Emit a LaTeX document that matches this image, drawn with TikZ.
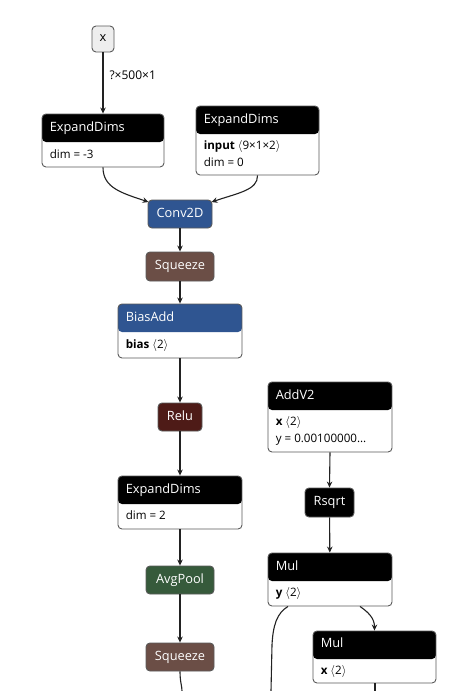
\documentclass[tikz,border=0pt]{standalone}
\usepackage{fontspec}
\setmainfont{Open Sans}
\usetikzlibrary{arrows.meta}
\newcommand{\myla}{$\langle$}
\newcommand{\myra}{$\rangle$}
\definecolor{bordc}{HTML}{5A5A5A}
\definecolor{edgec}{HTML}{222222}
\definecolor{convblue}{HTML}{2F5591}
\definecolor{sqbrown}{HTML}{6B4E46}
\definecolor{relured}{HTML}{4E1B17}
\definecolor{avggreen}{HTML}{365A3B}
\definecolor{xgray}{HTML}{EEEEEE}
\tikzset{
  blk/.style={draw=bordc, fill=white, rounded corners=4pt, line width=0.9pt, inner sep=0pt},
  hdr/.style={path picture={\fill[#1] (path picture bounding box.north west) rectangle ([yshift=-28pt]path picture bounding box.north east);}},
  op/.style={draw=bordc, rounded corners=4pt, line width=0.9pt, text=white, inner sep=0pt,
    font=\fontsize{12.8}{15}\selectfont, text height=9.2pt, text depth=2.8pt},
  inp/.style={draw=bordc, fill=xgray, rounded corners=4pt, line width=0.9pt, text=black, inner sep=0pt,
    font=\fontsize{12.8}{15}\selectfont, text height=6.8pt, text depth=1pt},
  hd/.style={anchor=west, text=white, inner sep=0pt, font=\fontsize{12.8}{15}\selectfont, text height=9.2pt, text depth=2.8pt},
  bd/.style={anchor=west, text=black, inner sep=0pt, font=\fontsize{11.6}{14}\selectfont, text height=8.4pt, text depth=2.6pt},
  lbl/.style={anchor=west, text=black, inner sep=0pt, font=\fontsize{12}{14}\selectfont},
  edge/.style={draw=edgec, line width=1.1pt, -{Stealth[length=6pt,width=5.5pt]}},
  tail/.style={draw=edgec, line width=1.1pt},
}
\begin{document}
\begin{tikzpicture}[x=1pt,y=-1pt]
\useasboundingbox (0,0) rectangle (467,691);
\fill[white] (0,0) rectangle (467,691);

% input
\node[inp, minimum width=22pt, minimum height=26pt] (x) at (103,39) {x};

% ExpandDims 1
\node[blk, hdr=black, minimum width=122pt, minimum height=53pt] (e1) at (103,140.5) {};
\node[hd] (e1t) at ([xshift=8pt,yshift=-14.5pt]e1.north west) {ExpandDims};
\node[bd] (e1a) at ([xshift=8pt,yshift=-42pt]e1.north west) {dim = -3};

% ExpandDims 2
\node[blk, hdr=black, minimum width=123pt, minimum height=69pt] (e2) at (257.5,140.5) {};
\node[hd] (e2t) at ([xshift=8pt,yshift=-14.5pt]e2.north west) {ExpandDims};
\node[bd] (e2a) at ([xshift=8pt,yshift=-41.5pt]e2.north west) {\textbf{input} \myla9×1×2\myra};
\node[bd] (e2b) at ([xshift=8pt,yshift=-58pt]e2.north west) {dim = 0};

% Conv2D
\node[op, fill=convblue, minimum width=64pt, minimum height=28pt] (conv) at (180,214) {Conv2D};
% Squeeze 1
\node[op, fill=sqbrown, minimum width=68pt, minimum height=29pt] (sq1) at (180,266.5) {Squeeze};
% BiasAdd
\node[blk, hdr=convblue, minimum width=124pt, minimum height=54pt] (bias) at (180,331) {};
\node[hd] (biast) at ([xshift=8pt,yshift=-14.5pt]bias.north west) {BiasAdd};
\node[bd] (biasa) at ([xshift=8pt,yshift=-42pt]bias.north west) {\textbf{bias} \myla2\myra};
% Relu
\node[op, fill=relured, minimum width=44pt, minimum height=28pt] (relu) at (180,417) {Relu};
% AddV2
\node[blk, hdr=black, minimum width=124pt, minimum height=70pt] (add) at (330,417) {};
\node[hd] (addt) at ([xshift=8pt,yshift=-14.5pt]add.north west) {AddV2};
\node[bd] (adda) at ([xshift=8pt,yshift=-41.5pt]add.north west) {\textbf{x} \myla2\myra};
\node[bd] (addb) at ([xshift=8pt,yshift=-58pt]add.north west) {y = 0.00100000…};
% ExpandDims 3
\node[blk, hdr=black, minimum width=124pt, minimum height=53pt] (e3) at (180,502.5) {};
\node[hd] (e3t) at ([xshift=8pt,yshift=-14.5pt]e3.north west) {ExpandDims};
\node[bd] (e3a) at ([xshift=8pt,yshift=-41.5pt]e3.north west) {dim = 2};
% Rsqrt
\node[op, fill=black, minimum width=49pt, minimum height=29pt] (rsqrt) at (329.5,502.5) {Rsqrt};
% AvgPool
\node[op, fill=avggreen, minimum width=68pt, minimum height=28pt] (avg) at (180,580) {AvgPool};
% Mul 1
\node[blk, hdr=black, minimum width=124pt, minimum height=53pt] (mul1) at (330,579.5) {};
\node[hd] (mul1t) at ([xshift=8pt,yshift=-14.5pt]mul1.north west) {Mul};
\node[bd] (mul1a) at ([xshift=8pt,yshift=-41.5pt]mul1.north west) {\textbf{y} \myla2\myra};
% Squeeze 2
\node[op, fill=sqbrown, minimum width=68pt, minimum height=28pt] (sq2) at (180,657) {Squeeze};
% Mul 2
\node[blk, hdr=black, minimum width=123pt, minimum height=52pt] (mul2) at (374.5,657) {};
\node[hd] (mul2t) at ([xshift=8pt,yshift=-14pt]mul2.north west) {Mul};
\node[bd] (mul2a) at ([xshift=8pt,yshift=-41pt]mul2.north west) {\textbf{x} \myla2\myra};

% free ends
\coordinate (off1) at (182,691);
\coordinate (off2) at (271,691);
\coordinate (off3) at (375,691);

% edges
\draw[edge] (x) -- node[lbl, pos=0.38, xshift=6pt] (lx) {?×500×1} (e1);
\draw[edge] (e1.south) .. controls (103,188) and (122,193) .. ([xshift=1pt,yshift=-2.5pt]conv.north west);
\draw[edge] (e2.south) .. controls (258,190) and (238,193) .. ([xshift=-1pt,yshift=-2.5pt]conv.north east);
\draw[edge] (conv) -- (sq1);
\draw[edge] (sq1) -- (bias);
\draw[edge] (bias) -- (relu);
\draw[edge] (relu) -- (e3);
\draw[edge] (e3) -- (avg);
\draw[edge] (avg) -- (sq2);
\draw[edge] (add.south) -- (rsqrt.north);
\draw[edge] (rsqrt) -- (mul1);
\draw[edge] ([xshift=30pt]mul1.south) .. controls (368,612) and (374.5,618) .. (mul2.north);
\draw[tail] (sq2.south) .. controls (180,682) and (182,686) .. (off1);
\draw[tail] ([xshift=-42pt]mul1.south) .. controls (277,613) and (273,625) .. (272,645) -- (off2);
\draw[tail] ([xshift=0.5pt]mul2.south) -- (off3);
\end{tikzpicture}
\end{document}
